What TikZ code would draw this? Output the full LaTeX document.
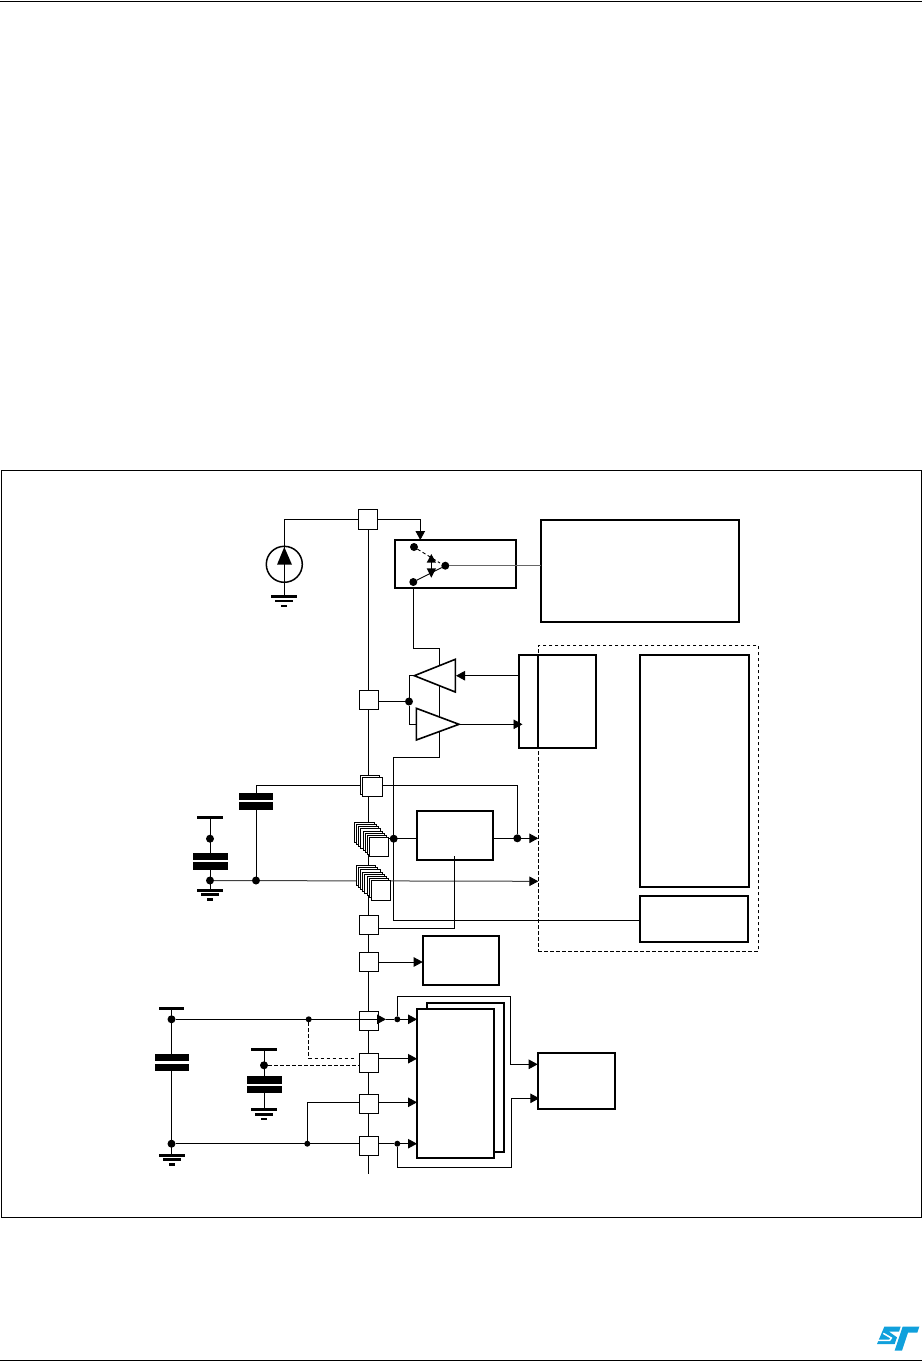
\documentclass[tikz,border=0pt]{standalone}
\usetikzlibrary{arrows.meta,backgrounds}
\definecolor{stblue}{RGB}{16,160,220}
\tikzset{
  wire/.style={line width=0.9pt,black},
  graywire/.style={line width=1pt,black!60},
  dashwire/.style={line width=0.9pt,black,dash pattern=on 3.5pt off 2.5pt},
  arrowwire/.style={wire,-{Triangle[length=9pt,width=9.5pt]}},
  pad/.style={draw,fill=white,line width=0.9pt,minimum size=19.4pt,inner sep=0pt,outer sep=0pt},
  blockbox/.style={draw,fill=white,line width=2pt,inner sep=0pt,outer sep=0pt},
  bigdot/.style={circle,fill=black,minimum size=8pt,inner sep=0pt,outer sep=0pt},
  smalldot/.style={circle,fill=black,minimum size=6pt,inner sep=0pt,outer sep=0pt},
  plate/.style={fill=black,inner sep=0pt,outer sep=0pt},
  gnd/.pic={
    \fill[black] (-13,-1.5) rectangle (13,1.5);
    \fill[black] (-9,3) rectangle (9,5.8);
    \fill[black] (-3,8) rectangle (3,10.6);
  }
}
\begin{document}
\begin{tikzpicture}[x=1pt,y=-1pt]
\useasboundingbox (0,0) rectangle (922,1361);
% --- blocks -------------------------------------------------------
\node[blockbox,minimum width=121.5pt,minimum height=48pt] (sw) at (455.6,564) {};
\node[blockbox,minimum width=198pt,minimum height=102pt] (cpu) at (640,571) {};
\node[blockbox,minimum width=77.3pt,minimum height=93pt] (ram) at (557.4,701.2) {};
\node[blockbox,minimum width=109.6pt,minimum height=232.3pt] (logic) at (694.5,770.8) {};
\node[blockbox,minimum width=108.6pt,minimum height=46.3pt] (gpio) at (694,918.9) {};
\node[blockbox,minimum width=76.6pt,minimum height=49.3pt] (reg) at (455,835.4) {};
\node[blockbox,minimum width=76.6pt,minimum height=49.3pt] (osc) at (461,960.4) {};
\node[blockbox,minimum width=77.3pt,minimum height=149pt] (adcb) at (465.4,1077.5) {};
\node[blockbox,minimum width=77pt,minimum height=148.4pt] (adc) at (455.5,1083.5) {};
\node[blockbox,minimum width=77.3pt,minimum height=56.3pt] (tim) at (576.4,1080.8) {};
% --- pads ---------------------------------------------------------
\node[pad] (p1) at (368,519.5) {};
\node[pad] (p2) at (369,700) {};
\node[pad] (p3b) at (370.2,784.8) {};
\node[pad] (p3) at (372.3,786.8) {};
\foreach \i in {0,...,7} \node[pad] (sa\i) at ({364.3+2.1*\i},{832.3+2.1*\i}) {};
\foreach \i in {0,...,7} \node[pad] (sb\i) at ({366+2.14*\i},{875.3+2.14*\i}) {};
\node[pad] (p6) at (369,925) {};
\node[pad] (p7) at (369,962) {};
\node[pad] (p8) at (369,1021) {};
\node[pad] (p9) at (369,1063) {};
\node[pad] (p10) at (369,1104) {};
\node[pad] (p11) at (369,1146) {};
% --- dots and junctions -------------------------------------------
\node[bigdot] (swa) at (414,547) {};
\node[bigdot] (swb) at (413.3,582) {};
\node[bigdot] (swc) at (445.3,565.7) {};
\node[bigdot] (ampj) at (409,701.5) {};
\node[bigdot] (regin) at (393.7,838.7) {};
\node[bigdot] (regout) at (517.3,838.3) {};
\node[bigdot] (c1top) at (210,838.7) {};
\node[bigdot] (c1bot) at (210,880.5) {};
\node[bigdot] (c2bot) at (256,880.5) {};
\node[bigdot] (c3top) at (171.5,1019.3) {};
\node[bigdot] (c3bot) at (171.5,1143.7) {};
\node[smalldot] (j1) at (308.7,1019.3) {};
\node[smalldot] (j2) at (307.3,1143.7) {};
\node[smalldot] (j3) at (397.3,1019.3) {};
\node[smalldot] (j4) at (397.3,1143.7) {};
\node[bigdot] (c4top) at (264,1065.3) {};
% --- capacitor plates and rails -------------------------------------
\node[plate,minimum width=34pt,minimum height=7.5pt] (c2a) at (256,796.7) {};
\node[plate,minimum width=34pt,minimum height=8pt] (c2b) at (256,806) {};
\node[plate,minimum width=35pt,minimum height=7pt] (c1a) at (210,856.5) {};
\node[plate,minimum width=35pt,minimum height=8pt] (c1b) at (210,866) {};
\node[plate,minimum width=26pt,minimum height=3pt] (r1) at (210,817.5) {};
\node[plate,minimum width=34pt,minimum height=7.3pt] (c3a) at (171.5,1057.7) {};
\node[plate,minimum width=34pt,minimum height=7pt] (c3b) at (171.5,1067.5) {};
\node[plate,minimum width=25pt,minimum height=3pt] (r3) at (171.5,1008.3) {};
\node[plate,minimum width=35pt,minimum height=7.7pt] (c4a) at (264,1079.9) {};
\node[plate,minimum width=35pt,minimum height=7.3pt] (c4b) at (264,1089.4) {};
\node[plate,minimum width=26pt,minimum height=3pt] (r4) at (264,1049.3) {};
\coordinate (g0) at (284.3,596.5);
\coordinate (g1) at (210,890.3);
\coordinate (g3) at (171.5,1155.3);
\coordinate (g4) at (264,1109.7);
\pic at (g0) {gnd};
\pic at (g1) {gnd};
\pic at (g3) {gnd};
\pic at (g4) {gnd};
% --- amplifier triangles --------------------------------------------
\coordinate (t1a) at (414.3,675.7);
\coordinate (t1b) at (455.3,659.3);
\coordinate (t1c) at (455.3,692);
\coordinate (t2a) at (459,724.3);
\coordinate (t2b) at (416.3,708.3);
\coordinate (t2c) at (416.3,740);
\coordinate (srcc) at (284.3,564.3);
\node[draw,circle,line width=1.5pt,minimum size=36pt,inner sep=0pt,outer sep=0pt] (src) at (srcc) {};
% --- everything that runs behind the blocks -------------------------
\begin{scope}[on background layer]
  \fill[white] (0,0) rectangle (922,1361);
  \draw[line width=1pt] (1,470) rectangle (921,1217);
  \draw[line width=1pt] (0,1) -- (922,1);
  \draw[line width=1pt] (0,1360) -- (922,1360);
  \node[draw,dashwire,minimum width=220pt,minimum height=306pt,inner sep=0pt] (dom) at (648.3,798.3) {};
  % supply bus
  \coordinate (busend) at (368.3,1174);
  \draw[wire] (368.3,519) -- (busend);
  % source
  \draw[wire] (p1.west) -| (src.north);
  \draw[wire] (src.south) -- (g0);
  % switch
  \coordinate (swin) at (420.3,540);
  \draw[arrowwire] (p1.east) -| (swin);
  % feedback loop behind the amplifiers
  \coordinate (la) at (439.3,648.3);
  \coordinate (lb) at (393.3,757.3);
  \draw[wire] (swb) |- (la) |- (lb) |- (gpio.west |- 0,920.3);
  % VDD stack rail
  \coordinate (c2top) at (256,793);
  \draw[wire] (c2top) |- (regout |- 0,785.3) -- (regout);
  \draw[wire] (c2b) -- (c2bot);
  \draw[wire] (r1) -- (c1a);
  \draw[wire] (c1b) -- (g1);
  % ground rail
  \coordinate (domb) at (538.3,881.3);
  \draw[black!75,line width=1pt,-{Triangle[length=9pt,width=9.5pt,color=black,fill=black]}] (c1bot) -- (domb);
  % regulator
  \draw[wire] (sa7.east |- regin) -- (reg.west |- regin);
  \coordinate (doma) at (538.3,838.3);
  \draw[arrowwire] (reg.east |- doma) -- (doma);
  % lower capacitors
  \draw[wire] (r3) -- (c3a);
  \draw[wire] (c3b) -- (g3);
  \draw[wire] (r4) -- (c4a);
  \draw[wire] (c4b) -- (g4);
  \draw[wire] (c3bot) -- (p11.west |- c3bot);
  \draw[wire] (j2) |- (p10.west |- 0,1102.3);
  \draw[dashwire] (c4top) -- (p9.west |- c4top);
  \coordinate (dashend) at (356,1058.3);
  \draw[dashwire] (j1) |- (dashend);
  % ADC loops
  \coordinate (tima) at (537.7,1064.3);
  \coordinate (timb) at (539.3,1098.3);
  \coordinate (la1) at (510.3,996.7);
  \coordinate (lb1) at (511.3,1167.3);
  \draw[arrowwire] (j3) |- (la1) |- (tima);
  \draw[arrowwire] (j4) |- (lb1) |- (timb);
  % amplifier inputs
  \draw[wire] (p2.east |- ampj) -- (ampj);
  \draw[wire] (t1a) -| (ampj) |- (t2b |- t2a);
\end{scope}
% --- amplifiers on top of the loop ------------------------------------
\draw[line width=1.6pt,fill=white,line join=miter] (t1a) -- (t1b) -- (t1c) -- cycle;
\draw[line width=1.6pt,fill=white,line join=miter] (t2a) -- (t2b) -- (t2c) -- cycle;
\coordinate (ampin) at (456,675.7);
\draw[arrowwire] (ram.west |- t1a) -- (ampin);
\coordinate (ramin) at (522.5,724.3);
\draw[arrowwire] (t2a) -- (ramin);
% --- ram divider ------------------------------------------------------
\draw[line width=2pt] (538,654.7) -- (538,747.7);
% --- source glyph -------------------------------------------------------
\draw[wire] (src.north) -- (src.south);
\fill[black] (284.3,547) -- (292,564.7) -- (277,564.7) -- cycle;
% --- switch glyph -------------------------------------------------------
\draw[graywire] (swc) -- (cpu.west |- swc);
\draw[dashwire] (swa) -- (440,563);
\draw[wire] (swb) -- (swc);
\draw[line width=0.6pt] (431.3,558) -- (431.3,575);
\fill[black] (431.3,554) -- (436,562.7) -- (426.7,562.7) -- cycle;
\fill[black] (431.3,577.7) -- (436,568.3) -- (426.7,568.3) -- cycle;
% --- connector segments in front ---------------------------------------
\coordinate (regt) at (454.7,856);
\draw[wire] (regt) |- (p6.east |- 0,928.3);
\coordinate (p8tip) at (386,1019.3);
\draw[arrowwire] (c3top) -- (p8tip);
\draw[wire] (p8tip) -- (j3);
\draw[arrowwire] (j3) -- (adc.west |- j3);
\draw[arrowwire] (p9.east |- 0,1058.7) -- (adc.west |- 0,1058.7);
\draw[arrowwire] (p10.east |- 0,1102.3) -- (adc.west |- 0,1102.3);
\draw[wire] (p11.east |- j4) -- (j4);
\draw[arrowwire] (j4) -- (adc.west |- j4);
\draw[arrowwire] (p7.east) -- (osc.west |- p7.east);
% --- company mark --------------------------------------------------------
\begin{scope}[shift={(842,1320)},x=0.3333pt,y=-0.3333pt]
  \fill[stblue] (127,20) -- (176,20) -- (171,35) -- (141,35) -- (165,52) -- (158,72) -- (105,72) -- cycle;
  \draw[white,line width=1.5pt] (124,40) -- (148,54) -- (143,61) -- (108,61);
  \fill[stblue] (182,20) -- (232,20) -- (226,38) -- (198,38) -- (180,92) -- (158,92) -- (176,38) -- cycle;
\end{scope}
\end{tikzpicture}
\end{document}
